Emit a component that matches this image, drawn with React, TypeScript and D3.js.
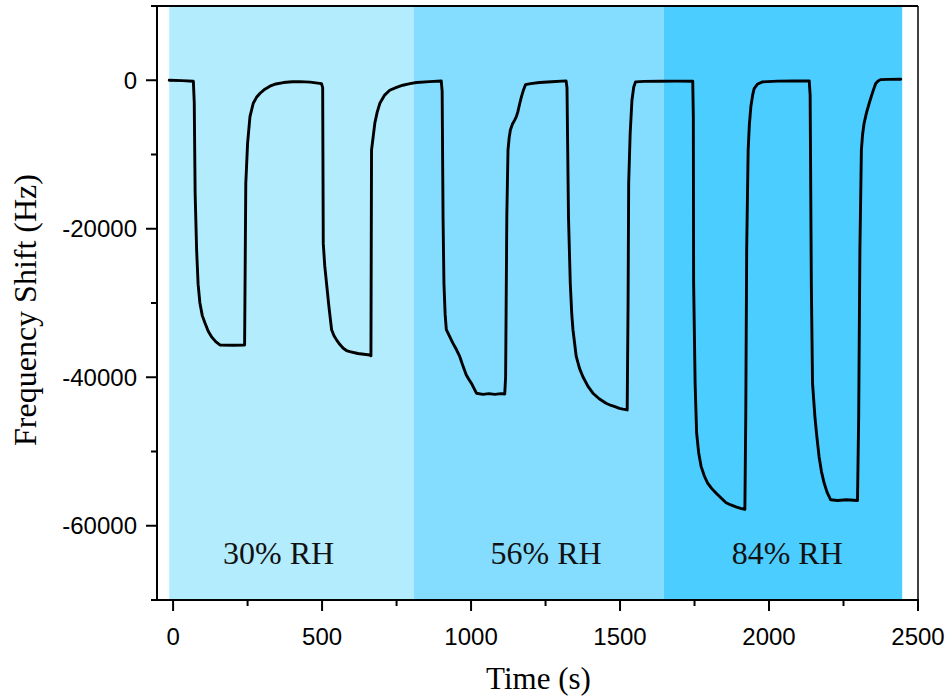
import React from "react";
import * as d3 from "d3";

// Time (s) and frequency shift (Hz) of the humidity response trace
const timeS: number[] = [
  -13, 30, 68, 71, 74, 79, 84, 90, 98, 107, 118, 130, 143, 157, 200, 240,
  244, 250, 258, 269, 280, 292, 308, 325, 345, 370, 400, 426, 460, 498,
  502, 504, 509, 515, 523, 532, 540, 549, 560, 571, 582, 593, 620, 640, 660, 664,
  666, 677, 685, 694, 710, 727, 750, 771, 795, 817, 860, 900,
  903, 906, 909, 913, 917, 928, 939, 950, 962, 973, 984, 993, 1001, 1010, 1018, 1040, 1060, 1080, 1100, 1113,
  1116, 1120, 1124, 1128, 1132, 1139, 1146, 1152, 1157, 1163, 1169, 1176, 1183, 1200, 1230, 1270, 1319,
  1322, 1327, 1333, 1338, 1342, 1353, 1364, 1375, 1392, 1409, 1430, 1453, 1470, 1485, 1498, 1510, 1524,
  1527, 1529, 1534, 1540, 1546, 1552, 1580, 1632, 1690, 1744,
  1746, 1747, 1752, 1757, 1764, 1772, 1783, 1794, 1808, 1822, 1840, 1856, 1872, 1889, 1905, 1919,
  1922, 1925, 1930, 1934, 1939, 1945, 1950, 1962, 1978, 2030, 2080, 2135,
  2138, 2142, 2146, 2154, 2160, 2168, 2176, 2185, 2195, 2207, 2230, 2260, 2297,
  2301, 2305, 2310, 2314, 2319, 2327, 2336, 2347, 2358, 2366, 2375, 2400, 2442,
];

const shiftHz: number[] = [
  0, -50, -130, -3000, -15240, -22900, -27500, -30000, -31700, -32700, -33800, -34600, -35200, -35650, -35700, -35650,
  -13900, -8500, -4900, -3100, -2300, -1750, -1200, -800, -500, -310, -200, -180, -250, -450,
  -1000, -21970, -25000, -27350, -30500, -33600, -34400, -35000, -35600, -36100, -36400, -36550, -36800, -36900, -37000, -37100,
  -9400, -5800, -4300, -3100, -2000, -1350, -950, -670, -450, -310, -180, -100,
  -1500, -18400, -27350, -31500, -33600, -34500, -35400, -36200, -37200, -38500, -39700, -40300, -40800, -41500, -42150, -42300, -42200, -42300, -42200, -42250,
  -40000, -18400, -9400, -7700, -6700, -5900, -5400, -4900, -4260, -3200, -2240, -1300, -580, -450, -310, -200, -90,
  -1000, -18400, -27350, -31500, -33600, -37200, -38800, -39900, -41200, -42150, -42900, -43500, -43800, -44000, -44200, -44300, -44400,
  -30000, -13900, -7170, -2690, -900, -220, -150, -130, -120, -130,
  -5000, -27350, -40800, -47500, -50200, -52000, -53300, -54250, -55000, -55600, -56300, -56900, -57200, -57450, -57650, -57800,
  -45000, -22900, -9400, -6000, -3590, -2000, -1120, -500, -220, -120, -100, -90,
  -2000, -27350, -40800, -45300, -47800, -50700, -52700, -54250, -55500, -56500, -56600, -56500, -56600,
  -45000, -22900, -9400, -7300, -5830, -4400, -3130, -1700, -450, -100, 90, 120, 130,
];

// Humidity stages shaded behind the trace
const stageLabels: string[] = ["30% RH", "56% RH", "84% RH"];
const stageStart: number[] = [-13, 808, 1646];
const stageEnd: number[] = [808, 1646, 2447];
const stageLabelX: number[] = [354, 1252, 2061];
const stageColors: string[] = ["#b3ecfd", "#84ddff", "#4bcdff"];

const xMajorTicks: number[] = [0, 500, 1000, 1500, 2000, 2500];
const xMinorTicks: number[] = [250, 750, 1250, 1750, 2250];
const yMajorTicks: number[] = [0, -20000, -40000, -60000];
const yMinorTicks: number[] = [10000, -10000, -30000, -50000, -70000];

const W = 952;
const H = 699;
const left = 157;
const right = 918;
const top = 6;
const bottom = 600;

export default function App() {
  const x = d3.scaleLinear().domain([-54, 2500]).range([left, right]);
  const y = d3.scaleLinear().domain([-70000, 10000]).range([bottom, top]);

  const pts = timeS.map((t, i) => [t, shiftHz[i]] as [number, number]);
  const line = d3
    .line<[number, number]>()
    .x((d) => x(d[0]))
    .y((d) => y(d[1]))
    .curve(d3.curveLinear);

  const sans = "'Liberation Sans', Arial, sans-serif";
  const serif = "'Liberation Serif', 'Times New Roman', serif";

  return (
    <svg
      width={W}
      height={H}
      style={{ position: "absolute", left: 0, top: 0, background: "#fff" }}
    >
      {stageLabels.map((lab, i) => (
        <rect
          key={"band" + i}
          x={x(stageStart[i])}
          y={top}
          width={x(stageEnd[i]) - x(stageStart[i])}
          height={bottom - top}
          fill={stageColors[i]}
        />
      ))}
      {stageLabels.map((lab, i) => (
        <text
          key={"lab" + i}
          x={x(stageLabelX[i])}
          y={y(-65000) + 1}
          textAnchor="middle"
          fontFamily={serif}
          fontSize={32}
          fill="#111"
        >
          {lab}
        </text>
      ))}

      <path
        d={line(pts) ?? ""}
        fill="none"
        stroke="#000"
        strokeWidth={2.9}
        strokeLinejoin="round"
        strokeLinecap="round"
      />

      {/* frame */}
      <line x1={left - 4} x2={right} y1={top} y2={top} stroke="#000" strokeWidth={1.8} />
      <line x1={right} x2={right} y1={top} y2={bottom} stroke="#000" strokeWidth={1.5} />
      <line x1={left} x2={left} y1={top} y2={bottom + 1} stroke="#000" strokeWidth={2} />
      <line x1={left - 5} x2={right + 1} y1={bottom} y2={bottom} stroke="#000" strokeWidth={2} />

      {/* x axis ticks */}
      {xMajorTicks.map((t) => (
        <g key={"xt" + t}>
          <line x1={x(t)} x2={x(t)} y1={bottom} y2={bottom + 11} stroke="#000" strokeWidth={2} />
          <text
            x={x(t)}
            y={bottom + 45}
            textAnchor="middle"
            fontFamily={sans}
            fontSize={24}
            fill="#000"
          >
            {t}
          </text>
        </g>
      ))}
      {xMinorTicks.map((t) => (
        <line key={"xm" + t} x1={x(t)} x2={x(t)} y1={bottom} y2={bottom + 6} stroke="#000" strokeWidth={2} />
      ))}

      {/* y axis ticks */}
      {yMajorTicks.map((v) => (
        <g key={"yt" + v}>
          <line x1={left - 11} x2={left} y1={y(v)} y2={y(v)} stroke="#000" strokeWidth={2} />
          <text
            x={left - 20}
            y={y(v)}
            dy="0.35em"
            textAnchor="end"
            fontFamily={sans}
            fontSize={24}
            fill="#000"
          >
            {v}
          </text>
        </g>
      ))}
      {yMinorTicks.map((v) => (
        <line key={"ym" + v} x1={left - 6} x2={left} y1={y(v)} y2={y(v)} stroke="#000" strokeWidth={2} />
      ))}

      <text
        x={(left + right) / 2 + 1}
        y={689}
        textAnchor="middle"
        fontFamily={serif}
        fontSize={31}
        fill="#000"
      >
        Time (s)
      </text>
      <text
        transform={`translate(36, ${(top + bottom) / 2 + 7}) rotate(-90)`}
        textAnchor="middle"
        fontFamily={serif}
        fontSize={32}
        fill="#000"
      >
        Frequency Shift (Hz)
      </text>
    </svg>
  );
}
